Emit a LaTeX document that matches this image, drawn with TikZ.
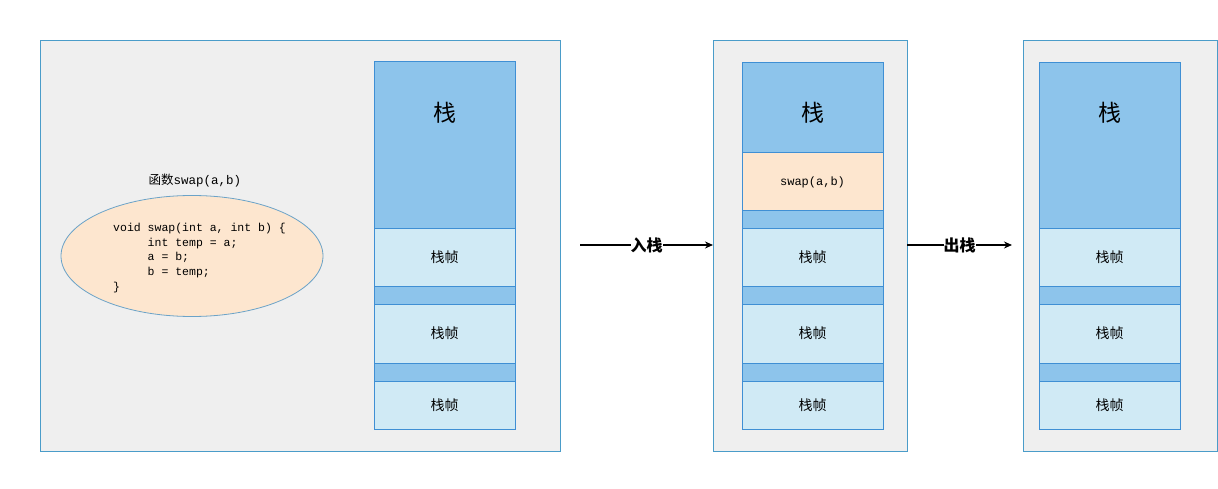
\documentclass[tikz,border=0pt]{standalone}
\usepackage{fontspec}
\setmonofont{Liberation Mono}
\newfontfamily\cjk{Noto Sans CJK SC}
\usetikzlibrary{arrows.meta,shapes.geometric}
\definecolor{panelfill}{HTML}{EFEFEF}
\definecolor{panelline}{HTML}{4A9CC9}
\definecolor{stacktop}{HTML}{8DC4EB}
\definecolor{framefill}{HTML}{D0EAF5}
\definecolor{stackline}{HTML}{3F8FD4}
\definecolor{peach}{HTML}{FDE6CF}
\definecolor{ellline}{HTML}{6BA3C8}
\tikzset{
  panel/.style={draw=panelline,fill=panelfill,line width=0.8pt},
  blk/.style={draw=stackline,line width=0.8pt},
  lbl/.style={font=\cjk\fontsize{14}{16}\selectfont},
  biglbl/.style={font=\cjk\fontsize{23}{26}\selectfont},
  arr/.style={-{Stealth[length=8pt,width=7pt]},line width=1.3pt},
  arrlbl/.style={font=\cjk\bfseries\fontsize{16}{18}\selectfont,inner sep=0pt}
}
\begin{document}
\begin{tikzpicture}[x=1pt,y=-1pt]
\useasboundingbox (0,0) rectangle (1218,489);
\fill[white] (0,0) rectangle (1218,489);
% panels
\draw[panel] (40,40) rectangle (560,451);
\draw[panel] (713,40) rectangle (907,451);
\draw[panel] (1023,40) rectangle (1217,451);
% stack 1
\draw[blk,fill=stacktop] (374,61) rectangle (515,228);
\draw[blk,fill=framefill] (374,228) rectangle (515,286);
\draw[blk,fill=stacktop] (374,286) rectangle (515,304);
\draw[blk,fill=framefill] (374,304) rectangle (515,363);
\draw[blk,fill=stacktop] (374,363) rectangle (515,381);
\draw[blk,fill=framefill] (374,381) rectangle (515,429);
\node[biglbl] (s1) at (444.5,113) {栈};
\node[lbl] (f11) at (444.5,257) {栈帧};
\node[lbl] (f12) at (444.5,333) {栈帧};
\node[lbl] (f13) at (444.5,405) {栈帧};
% stack 2
\draw[blk,fill=stacktop] (742,62) rectangle (883,152);
\draw[blk,fill=peach] (742,152) rectangle (883,210);
\draw[blk,fill=stacktop] (742,210) rectangle (883,228);
\draw[blk,fill=framefill] (742,228) rectangle (883,286);
\draw[blk,fill=stacktop] (742,286) rectangle (883,304);
\draw[blk,fill=framefill] (742,304) rectangle (883,363);
\draw[blk,fill=stacktop] (742,363) rectangle (883,381);
\draw[blk,fill=framefill] (742,381) rectangle (883,429);
\node[biglbl] (s2) at (812.5,113) {栈};
\node[font=\ttfamily\fontsize{12}{14}\selectfont] (sw) at (812.5,182) {swap(a,b)};
\node[lbl] (f21) at (812.5,257) {栈帧};
\node[lbl] (f22) at (812.5,333) {栈帧};
\node[lbl] (f23) at (812.5,405) {栈帧};
% stack 3
\draw[blk,fill=stacktop] (1039,62) rectangle (1180,228);
\draw[blk,fill=framefill] (1039,228) rectangle (1180,286);
\draw[blk,fill=stacktop] (1039,286) rectangle (1180,304);
\draw[blk,fill=framefill] (1039,304) rectangle (1180,363);
\draw[blk,fill=stacktop] (1039,363) rectangle (1180,381);
\draw[blk,fill=framefill] (1039,381) rectangle (1180,429);
\node[biglbl] (s3) at (1109.5,113) {栈};
\node[lbl] (f31) at (1109.5,257) {栈帧};
\node[lbl] (f32) at (1109.5,333) {栈帧};
\node[lbl] (f33) at (1109.5,405) {栈帧};
% function
\node[font=\fontsize{12.5}{14}\selectfont] (ft) at (195,181) {{\cjk 函数}\texttt{swap(a,b)}};
\node[ellipse,draw=ellline,fill=peach,line width=0.8pt,minimum width=262pt,minimum height=121pt] (el) at (192,256) {};
\node[anchor=north west,align=left,inner sep=0pt,font=\ttfamily\fontsize{11.5}{14.7}\selectfont] (code) at (113,223)
{void swap(int a, int b) \{\\
\ \ \ \ \ int temp = a;\\
\ \ \ \ \ a = b;\\
\ \ \ \ \ b = temp;\\
\}};
% arrows
\coordinate (a1s) at (580,245);
\coordinate (a1e) at (713,245);
\coordinate (a2s) at (907,245);
\coordinate (a2e) at (1012,245);
\draw[arr] (a1s) -- node[arrlbl,fill=white] {入栈} (a1e);
\draw[arr] (a2s) -- node[arrlbl,fill=white] {出栈} (a2e);
\end{tikzpicture}
\end{document}
